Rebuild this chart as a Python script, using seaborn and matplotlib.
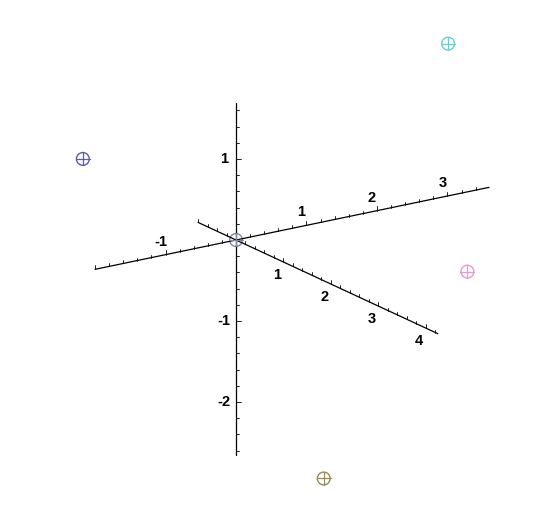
import numpy as np
import seaborn as sns
import matplotlib.pyplot as plt

# 3D points (a, b, v) and their colours
pt_a = [0.0, -1.5, 2.0, 1.6, 0.1]
pt_b = [0.0, -1.0, 1.5, 2.5, 1.7]
pt_v = [0.0, 1.0, 2.47, 0.0, -2.5]
pt_colors = ['#7d8aa8', '#5c5ca8', '#5fd0d8', '#e59ad0', '#9a8a50']

# axis ranges and labelled ticks
a_range = [-2.0, 3.59]
b_range = [-0.8, 4.25]
v_range = [-2.65, 1.69]
a_labels = [-1, 1, 2, 3]
b_labels = [1, 2, 3, 4]
v_labels = [-2, -1, 1]

# projection of the 3D axes onto the picture plane (v is vertical)
A = np.array([0.870, 0.181])
B = np.array([0.586, -0.272])
V = np.array([0.0, 1.0])


def proj(a, b, v):
    a, b, v = np.asarray(a), np.asarray(b), np.asarray(v)
    return a * A[0] + b * B[0] + v * V[0], a * A[1] + b * B[1] + v * V[1]


sns.set_style("white")
plt.rcParams['font.family'] = ['Liberation Sans', 'DejaVu Sans']

fig = plt.figure(figsize=(5.5, 5.08), dpi=100)
ax = fig.add_axes([0, 0, 1, 1])
ax.set_xlim(-236 / 81, (550 - 236) / 81)
ax.set_ylim(-(508 - 240) / 81, 240 / 81)
ax.axis('off')

px = 1 / 81  # one pixel in data units
lab = dict(fontsize=10.5, fontweight='bold', color='black', ha='center', va='center')

# axis A
x, y = proj(a_range, [0, 0], [0, 0])
ax.plot(x, y, color='black', lw=0.9)
for t in np.arange(-2.0, 3.59, 0.2):
    tx, ty = proj(t, 0, 0)
    major = abs(t - round(t)) < 1e-6
    ax.plot([tx, tx], [ty, ty + (4.5 if major else 3) * px], color='black', lw=0.6)
for t in a_labels:
    tx, ty = proj(t, 0, 0)
    ax.text(tx - 5 * px, ty + 13 * px, str(t), **lab)

# axis B
x, y = proj([0, 0], b_range, [0, 0])
ax.plot(x, y, color='black', lw=0.9)
for t in np.arange(-0.8, 4.25, 0.2):
    tx, ty = proj(0, t, 0)
    major = abs(t - round(t)) < 1e-6
    ax.plot([tx, tx], [ty, ty + (4.5 if major else 3) * px], color='black', lw=0.6)
for t in b_labels:
    tx, ty = proj(0, t, 0)
    ax.text(tx - 6.5 * px, ty - 13 * px, str(t), **lab)

# axis V
x, y = proj([0, 0], [0, 0], v_range)
ax.plot(x, y, color='black', lw=0.9)
for t in np.arange(-2.6, 1.69, 0.2):
    tx, ty = proj(0, 0, t)
    major = abs(t - round(t)) < 1e-6
    ax.plot([tx, tx + (4.5 if major else 3) * px], [ty, ty], color='black', lw=0.6)
for t in v_labels:
    tx, ty = proj(0, 0, t)
    ax.text(tx - 12 * px, ty, str(t), **lab)

# points: hollow circles with a cross
x, y = proj(pt_a, pt_b, pt_v)
sns.scatterplot(x=x, y=y, hue=list(range(len(x))), palette=pt_colors, marker='o',
                s=85, linewidth=1.0, legend=False, ax=ax)
coll = ax.collections[-1]
coll.set_edgecolors(coll.get_facecolors())
coll.set_facecolors('none')
for xi, yi, c in zip(x, y, pt_colors):
    ax.plot([xi - 7 * px, xi + 7 * px], [yi, yi], color=c, lw=0.9)
    ax.plot([xi, xi], [yi - 6.5 * px, yi + 6.5 * px], color=c, lw=0.9)

fig.savefig('out.png', dpi=100)
